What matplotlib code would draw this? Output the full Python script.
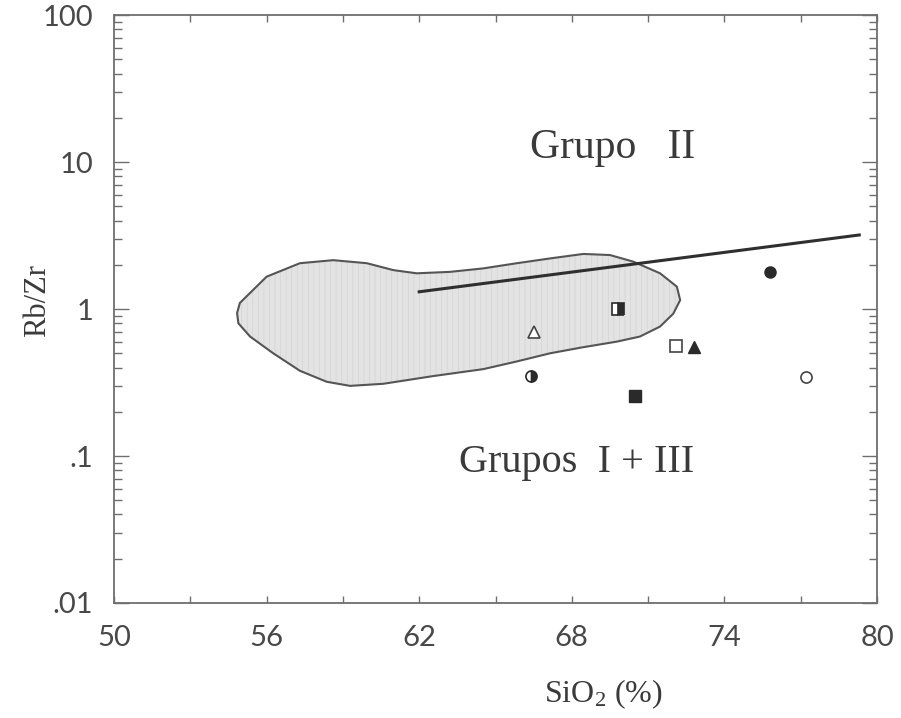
import matplotlib
matplotlib.use("Agg")
import matplotlib.pyplot as plt
from matplotlib.patches import Polygon
from matplotlib.ticker import FixedLocator, NullFormatter, LogLocator
import numpy as np

matplotlib.rcParams["mathtext.fontset"] = "custom"
matplotlib.rcParams["mathtext.rm"] = "Liberation Serif"
matplotlib.rcParams["mathtext.it"] = "Liberation Serif:italic"
matplotlib.rcParams["hatch.linewidth"] = 0.5

# Field outline (SiO2 %, Rb/Zr)
field_sio2 = [54.84, 54.95, 56.00, 57.31, 58.62, 59.94, 60.98, 61.90, 63.21, 64.52,
              65.84, 67.15, 68.45, 69.50, 70.42, 71.47, 72.13, 72.26, 71.99, 71.47,
              70.68, 69.77, 68.45, 67.15, 65.84, 64.52, 62.56, 60.59, 59.28, 58.36,
              57.31, 56.26, 55.35, 54.89]
field_rbzr = [0.94, 1.10, 1.66, 2.05, 2.15, 2.05, 1.84, 1.75, 1.79, 1.89,
              2.05, 2.21, 2.37, 2.33, 2.10, 1.75, 1.42, 1.15, 0.93, 0.76,
              0.65, 0.60, 0.55, 0.50, 0.44, 0.39, 0.35, 0.31, 0.30, 0.32,
              0.38, 0.50, 0.65, 0.80]

# Dividing line between groups
line_sio2 = [62.0, 79.3]
line_rbzr = [1.31, 3.19]

# Samples
sample_sio2 = [66.5, 69.8, 72.1, 72.8, 66.4, 70.5, 75.8, 77.2]
sample_rbzr = [0.70, 1.00, 0.56, 0.55, 0.35, 0.256, 1.79, 0.344]
sample_marker = ["^", "s", "s", "^", "o", "s", "o", "o"]
sample_fill = ["none", "right", "none", "full", "right", "full", "full", "none"]

x_ticks = [50, 56, 62, 68, 74, 80]
y_ticks = [0.01, 0.1, 1, 10, 100]
y_ticklabels = [".01", ".1", "1", "10", "100"]

ink = "#3a3a3a"
frame = "#6e6e6e"

fig = plt.figure(figsize=(9.01, 7.18), dpi=100)
ax = fig.add_axes([0.1265, 0.1602, 0.8469, 0.8188])
ax.set_yscale("log")
ax.set_xlim(50, 80)
ax.set_ylim(0.01, 100)

outline = np.column_stack([field_sio2, field_rbzr])
ax.add_patch(Polygon(outline, closed=True, facecolor="#e3e3e3",
                     edgecolor="none", zorder=1))
ax.add_patch(Polygon(outline, closed=True, facecolor="none",
                     edgecolor="#d4d4d4", linewidth=0, hatch="|||", zorder=1.1))
ax.add_patch(Polygon(outline, closed=True, facecolor="none",
                     edgecolor="#555555", linewidth=1.5, zorder=1.2))

ax.plot(line_sio2, line_rbzr, color="#2f2f2f", linewidth=2.2, zorder=2)

for x, y, m, fs in zip(sample_sio2, sample_rbzr, sample_marker, sample_fill):
    if fs == "none":
        ax.plot(x, y, marker=m, markersize=8, markerfacecolor="white",
                markeredgecolor="#444444", markeredgewidth=1.2, linestyle="none", zorder=3)
    elif fs == "full":
        ax.plot(x, y, marker=m, markersize=8, markerfacecolor="#2a2a2a",
                markeredgecolor="#2a2a2a", markeredgewidth=1.0, linestyle="none", zorder=3)
    else:
        ax.plot(x, y, marker=m, markersize=8, fillstyle=fs, markerfacecolor="#2a2a2a",
                markerfacecoloralt="white", markeredgecolor="#2a2a2a",
                markeredgewidth=1.2, linestyle="none", zorder=3)

serif = ["Liberation Serif", "DejaVu Serif"]
ax.text(69.6, 12.6, "Grupo   II", family=serif, fontsize=30, color=ink,
        ha="center", va="center")
ax.text(68.2, 0.091, "Grupos  I + III", family=serif, fontsize=29, color=ink,
        ha="center", va="center")

# Axis frame and ticks
for s in ax.spines.values():
    s.set_color(frame)
    s.set_linewidth(1.3)

ax.set_xticks(x_ticks)
ax.set_xticklabels([str(v) for v in x_ticks])
ax.xaxis.set_minor_locator(FixedLocator(np.arange(50, 81, 3)))
ax.set_yticks(y_ticks)
ax.set_yticklabels(y_ticklabels)
ax.yaxis.set_minor_locator(LogLocator(base=10, subs=np.arange(2, 10)))
ax.yaxis.set_minor_formatter(NullFormatter())

ax.tick_params(which="both", direction="in", top=True, right=True,
               color=frame, width=1.0)
ax.tick_params(axis="x", which="major", length=5, pad=16)
ax.tick_params(axis="x", which="minor", length=5)
ax.tick_params(axis="y", which="major", length=11, pad=15)
ax.tick_params(axis="y", which="minor", length=6)

sans = ["Lato", "DejaVu Sans"]
for lab in ax.get_xticklabels() + ax.get_yticklabels():
    lab.set_family(sans)
    lab.set_fontsize(21)
    lab.set_color("#484848")

ax.set_xlabel("SiO$_2$ (%)", family=serif, fontsize=23, color=ink)
ax.xaxis.set_label_coords(0.641, -0.127)
ax.set_ylabel("Rb/Zr", family=serif, fontsize=22, color=ink)
ax.yaxis.set_label_coords(-0.081, 0.515)

fig.savefig("out.png", dpi=100)
